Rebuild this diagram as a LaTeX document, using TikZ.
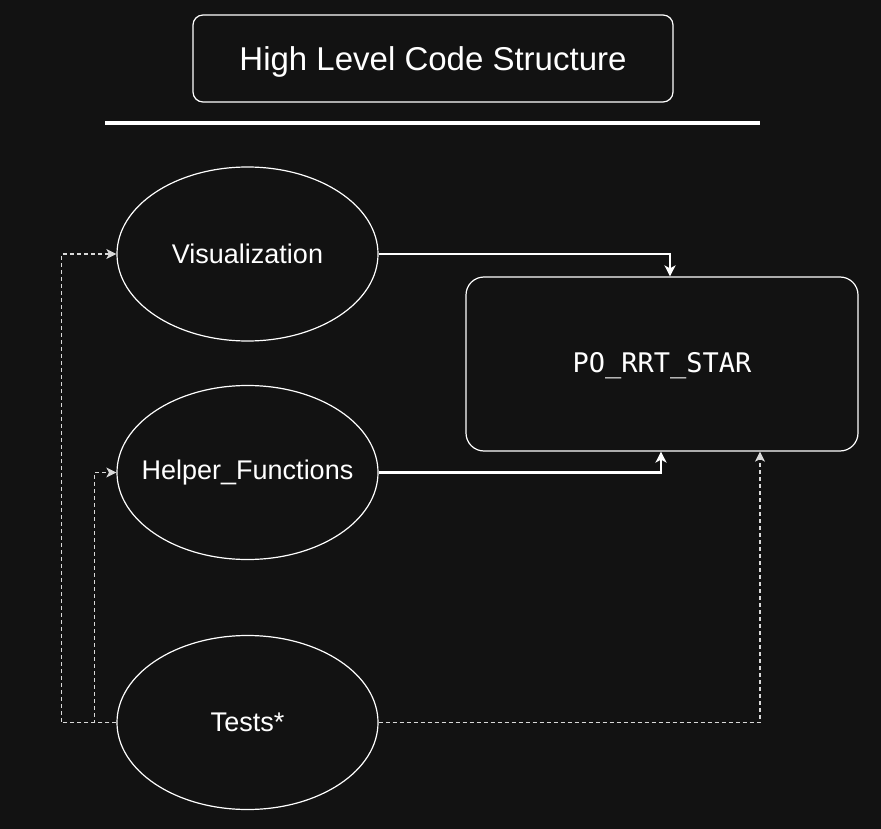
\documentclass[tikz,border=0pt]{standalone}
\usepackage{fontspec}
\setmainfont{Liberation Sans}
\newfontfamily\codefont{DejaVu Sans Mono}
\usetikzlibrary{shapes.geometric,arrows.meta}

\definecolor{bgdark}{RGB}{18,18,18}

\begin{document}
\begin{tikzpicture}[x=1pt,y=-1pt,
  module/.style={draw=white,line width=1.2pt,ellipse,minimum width=261pt,minimum height=174pt,inner sep=0pt,
    label={[text=white,font=\fontsize{27}{31}\selectfont]center:#1}},
  mainbox/.style={draw=white,line width=1.2pt,rounded corners=18pt,minimum width=392pt,minimum height=174pt,
    label={[text=white,yshift=-2pt,font=\codefont\fontsize{27}{31}\selectfont]center:#1}},
  uses/.style={draw=white,line width=2.2pt,-{Stealth[length=11pt,width=11pt,inset=3pt]}},
  tests/.style={draw=white!85!black,line width=1.2pt,dash pattern=on 4pt off 3pt,-{Stealth[length=10pt,width=10pt,inset=2.5pt]}}]
%background and margins
\fill[bgdark] (0,0) rectangle (881,829);
\useasboundingbox (0,0) rectangle (881,829);
%title
\node[draw=white,line width=1.2pt,rounded corners=10pt,minimum width=480pt,minimum height=87pt,
  label={[text=white,yshift=-3pt,font=\fontsize{33}{38}\selectfont]center:High Level Code Structure}] (title) at (433,58.5) {};
\draw[white,line width=3.5pt] (105,123) -- (760,123);
%modules
\node[module=Visualization] (vis) at (247.5,254) {};
\node[module=Helper\_Functions] (help) at (247.5,472.5) {};
\node[module=Tests*] (test) at (247.5,722.5) {};
\node[mainbox=PO\_RRT\_STAR] (po) at (662,364) {};
%solid connectors
\draw[uses] (vis.east) -| ([xshift=8pt]po.north);
\draw[uses] (help.east) -| ([xshift=-1pt]po.south);
%dotted connectors
\draw[tests] (test.east) -| ([xshift=98pt]po.south);
\draw[tests] (test.west) -- ++(-55,0) |- (vis.west);
\draw[tests] (test.west) -- ++(-22,0) |- (help.west);
\end{tikzpicture}
\end{document}
